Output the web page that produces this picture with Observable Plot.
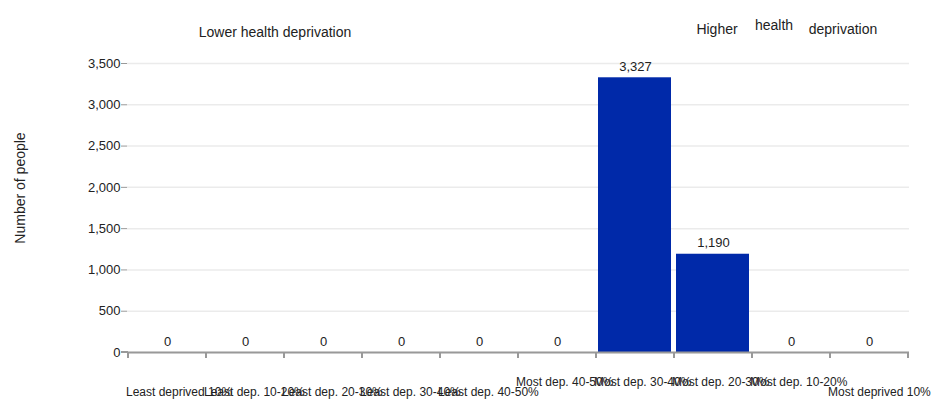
<!DOCTYPE html>
<html><head>
<meta charset="utf-8">
<script src="https://cdn.jsdelivr.net/npm/d3@7"></script>
<script src="https://cdn.jsdelivr.net/npm/@observablehq/plot@0.6"></script>
<style>
body{margin:0;background:#fff;font-family:"Liberation Sans",Arial,sans-serif}
#chart{position:relative;width:949px;height:409px}
</style>
</head><body><div id="chart"></div>
<script>
const categories = ["Least deprived 10%","Least dep. 10-20%","Least dep. 20-30%","Least dep. 30-40%","Least dep. 40-50%","Most dep. 40-50%","Most dep. 30-40%","Most dep. 20-30%","Most dep. 10-20%","Most deprived 10%"];
const people = [0,0,0,0,0,0,3327,1190,0,0];
const yTicks = [0,500,1000,1500,2000,2500,3000,3500];
const yTitle = "Number of people";
const lowerTitle = "Lower health deprivation";
const higherWords = ["Higher","health","deprivation"];

const data = categories.map((c,i)=>({category:c, value:people[i], i}));
const fmt = d3.format(",");
const font = '"Liberation Sans",Arial,sans-serif';

const plot = Plot.plot({
  width:949, height:409,
  marginLeft:127, marginRight:40, marginTop:63, marginBottom:57,
  style:{fontFamily:font, fontSize:"13px", color:"#222", background:"#fff"},
  x:{domain:categories, padding:0, axis:null},
  y:{domain:[0,3500], axis:null},
  marks:[
    Plot.gridY(yTicks,{stroke:"#ebebeb", strokeOpacity:1, strokeWidth:1.5}),
    Plot.barY(data,{x:"category", y:"value", fill:"#0029a9", insetLeft:2, insetRight:3}),
    Plot.text(data,{x:"category", y:"value", text:d=>fmt(d.value), dy:-11, fontSize:13, fill:"#222"}),
    Plot.axisY({ticks:yTicks, tickFormat:fmt, tickSize:6, tickPadding:1, stroke:"#999", fill:"#222", fontSize:13, label:null}),
    Plot.ruleX([0],{y1:0, y2:3500, frameAnchor:"left", stroke:"#999", strokeWidth:2}),
    Plot.ruleY([0],{stroke:"#999", strokeWidth:2})
  ]
});
document.getElementById("chart").appendChild(plot);

// x axis boundary ticks and left-anchored category labels, from the plot's own scales
const svg = d3.select(plot);
const xs = plot.scale("x"), ys = plot.scale("y");
const bw = xs.bandwidth;
const y0 = ys.apply(0);
const bounds = categories.map(c=>xs.apply(c)).concat([xs.apply(categories[categories.length-1])+bw]);
const g = svg.append("g");
g.selectAll("line").data(bounds).join("line")
  .attr("x1",d=>d).attr("x2",d=>d).attr("y1",y0).attr("y2",y0+6)
  .attr("stroke","#999").attr("stroke-width",2);
g.append("line").attr("x1",121).attr("x2",bounds[0]).attr("y1",y0).attr("y2",y0).attr("stroke","#999").attr("stroke-width",2);
g.selectAll("text").data(categories).join("text")
  .attr("x",c=>xs.apply(c)-2)
  .attr("y",(c,i)=> (i>=5 && i<=8) ? y0+34 : y0+44)
  .attr("text-anchor","start")
  .attr("font-size",12).attr("fill","#222").attr("font-family",font)
  .text(c=>c);

// titles
svg.append("text").attr("transform","translate(25,188) rotate(-90)")
  .attr("text-anchor","middle").attr("font-size",14).attr("fill","#222").attr("font-family",font).text(yTitle);
svg.append("text").attr("x",275).attr("y",37).attr("text-anchor","middle")
  .attr("font-size",14).attr("fill","#222").attr("font-family",font).text(lowerTitle);
const hx = [717,774,843], hy = [34,30,34];
svg.selectAll("text.hw").data(higherWords).join("text").attr("class","hw")
  .attr("x",(d,i)=>hx[i]).attr("y",(d,i)=>hy[i]).attr("text-anchor","middle")
  .attr("font-size",14).attr("fill","#222").attr("font-family",font).text(d=>d);
</script>
</body></html>
